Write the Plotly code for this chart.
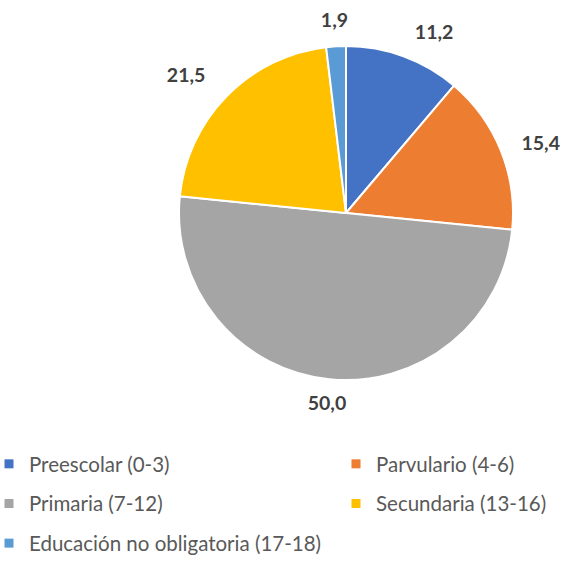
import plotly.graph_objects as go

labels = ["Preescolar (0-3)", "Parvulario (4-6)", "Primaria (7-12)",
          "Secundaria (13-16)", "Educación no obligatoria (17-18)"]
values = [11.2, 15.4, 50.0, 21.5, 1.9]
colors = ["#4472C4", "#ED7D31", "#A5A5A5", "#FFC000", "#5B9BD5"]
text_labels = [f"{v:.1f}".replace(".", ",") for v in values]
col1 = [0, 2, 4]
col2 = [1, 3]

W = H = 562
cx, cy, r = 346, 213, 167

# label carriers: (slice indices, textposition, radius of transparent pie, hole)
label_layers = [
    ([4], "inside", 198, 0.96),
    ([2], "inside", 216, 0.765),
    ([0, 1], "outside", 183, 0),
    ([3], "outside", 189, 0),
]


def dom(rad):
    return dict(x=[max(0, (cx - rad) / W), min(1, (cx + rad) / W)],
                y=[max(0, 1 - (cy + rad) / H), min(1, 1 - (cy - rad) / H)])


lab_font = dict(family="Lato", size=19.5, color="#404040", weight="bold")
clear = dict(colors=["rgba(0,0,0,0)"] * len(values), line=dict(width=0))

fig = go.Figure()
fig.add_trace(go.Pie(
    labels=labels, values=values, sort=False, direction="clockwise",
    rotation=0, textinfo="none", showlegend=False,
    marker=dict(colors=colors, line=dict(color="white", width=2)),
    domain=dom(r), hoverinfo="label+value",
))
for idx, pos, rad, hole in label_layers:
    fig.add_trace(go.Pie(
        labels=labels, values=values, sort=False, direction="clockwise",
        rotation=0, text=[t if i in idx else "" for i, t in enumerate(text_labels)],
        textinfo="text", textposition=pos, insidetextorientation="horizontal",
        hole=hole, textfont=lab_font, marker=clear,
        domain=dom(rad), hoverinfo="skip", showlegend=False,
    ))
for col, leg in ((col1, "legend"), (col2, "legend2")):
    for i in col:
        fig.add_trace(go.Scatter(
            x=[None], y=[None], mode="markers", name=labels[i], legend=leg,
            legendgroup=labels[i],
            marker=dict(symbol="square", size=9, color=colors[i]),
        ))

leg_common = dict(orientation="v", yanchor="top", xanchor="left",
                  tracegroupgap=10, itemclick=False, itemdoubleclick=False,
                  bgcolor="rgba(0,0,0,0)",
                  font=dict(family="Lato", size=20.5, color="#595959"))
fig.update_layout(
    width=W, height=H, margin=dict(l=0, r=0, t=0, b=0, autoexpand=False),
    paper_bgcolor="white", plot_bgcolor="white",
    font=dict(family="Lato", size=20, color="#595959"),
    xaxis=dict(visible=False), yaxis=dict(visible=False),
    uniformtext=dict(mode="show", minsize=19.5),
    legend=dict(x=-11 / W, y=1 - 444 / H, **leg_common),
    legend2=dict(x=(376 - 40) / W, y=1 - 444 / H, **leg_common),
)
fig.write_html("out.html", config={"displayModeBar": False},
               post_script="document.body.style.margin='0';")
